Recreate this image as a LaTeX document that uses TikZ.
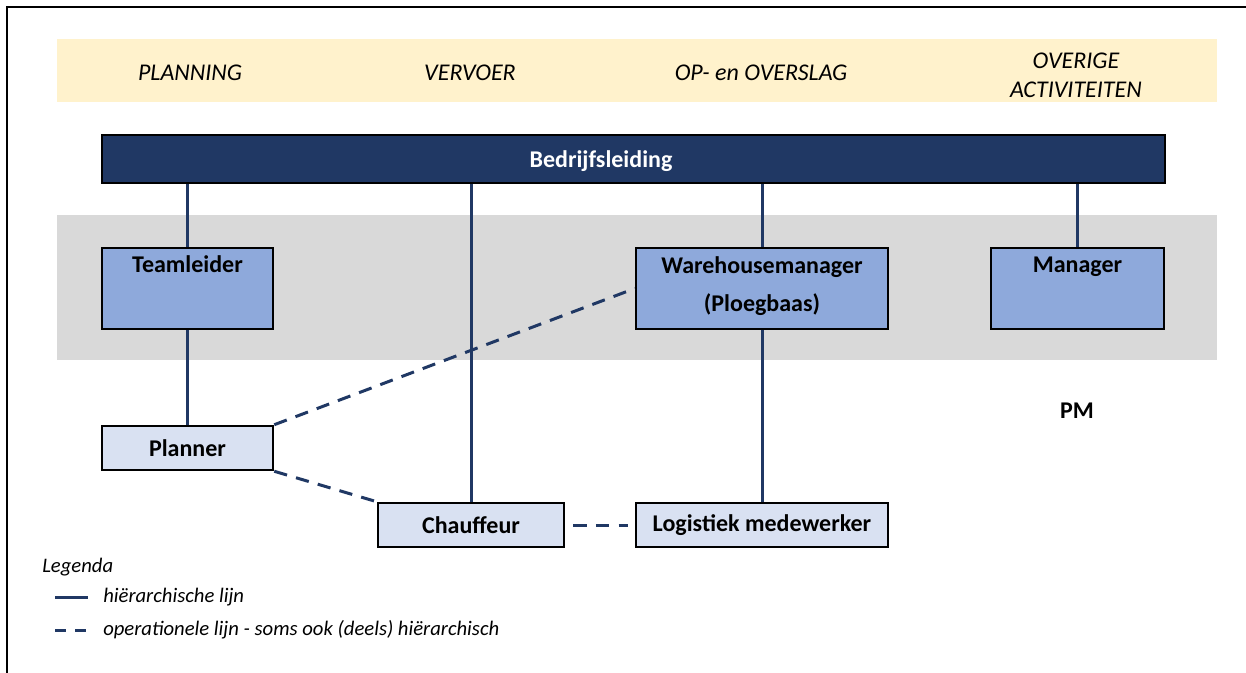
\documentclass[tikz,border=0pt]{standalone}
\usepackage{fontspec}
\setmainfont{Carlito}
\usetikzlibrary{positioning,calc}
\definecolor{darknavy}{HTML}{203864}
\definecolor{midblue}{HTML}{8EA9DB}
\definecolor{paleblue}{HTML}{D9E1F2}
\definecolor{beige}{HTML}{FFF2CC}
\definecolor{bandgray}{HTML}{D9D9D9}
\newcommand{\pxu}{0.75pt}

\begin{document}
\begin{tikzpicture}[x=\pxu,y=-\pxu,
  hdr/.style={font=\fontsize{18}{21.75}\selectfont\itshape,align=center},
  topbox/.style={rectangle,draw=black,line width=1.9pt,fill=midblue,inner sep=0pt,minimum width=#1*\pxu,text height=18.75pt,text depth=42pt,align=center,font=\fontsize{18}{28.5}\selectfont\bfseries},
  lowbox/.style={rectangle,draw=black,line width=1.9pt,fill=paleblue,inner sep=0pt,minimum width=#1*\pxu,minimum height=33pt,font=\fontsize{18}{22}\selectfont\bfseries},
  hier/.style={darknavy,line width=2.25pt},
  oper/.style={darknavy,line width=2.25pt,dash pattern=on 10pt off 7pt},
  legtext/.style={font=\fontsize{15.5}{18}\selectfont\itshape,anchor=west,inner sep=0pt}]
  \useasboundingbox (0,0) rectangle (1246,673);
  % Frame and bands
  \draw[line width=2.2pt] (1246,7) -- (7,7) -- (7,673);
  \fill[beige] (57,39) rectangle (1217,102);
  \fill[bandgray] (57,215) rectangle (1217,360);

  % Column headers
  \node[hdr] (hplan) at (190,73) {PLANNING};
  \node[hdr] (hvervoer) at (470,73) {VERVOER};
  \node[hdr] (hoverslag) at (761,73) {OP- en OVERSLAG};
  \node[hdr] (hoverig) at (1076,75) {OVERIGE\\ACTIVITEITEN};

  % Nodes
  \node[rectangle,draw=black,line width=1.9pt,fill=darknavy,minimum width=1063*\pxu,minimum height=48*\pxu,inner sep=0pt] (bar) at (633.5,159) {};
  \node[font=\fontsize{18}{22}\selectfont\bfseries,text=white] (barlabel) at (601,161) {Bedrijfsleiding};
  \node[topbox=171] (team) at (187.5,288.5) {Teamleider};
  \node[topbox=252,text height=48pt,text depth=12.75pt] (wm) at (762,288.5) {Warehousemanager\\(Ploegbaas)};
  \node[topbox=173] (mgr) at (1077.5,288.5) {Manager};
  \node[lowbox=171] (planner) at (187.5,448) {Planner};
  \node[lowbox=186] (chauf) at (471,525) {Chauffeur};
  \node[lowbox=252] (logis) at (762,525) {Logistiek medewerker};
  \node[font=\fontsize{18}{22}\selectfont\bfseries] (pm) at (1077,411) {PM};

  % Hierarchical lines
  \draw[hier] (team.north |- bar.south) -- (team.north);
  \draw[hier] (chauf.north |- bar.south) -- (chauf.north);
  \draw[hier] (wm.north |- bar.south) -- (wm.north);
  \draw[hier] (mgr.north |- bar.south) -- (mgr.north);
  \draw[hier] (team) -- (planner);
  \draw[hier] (wm) -- (logis);

  % Operational lines
  \draw[oper] (planner.north east) -- (wm.west);
  \draw[oper] (planner.south east) -- (chauf.north west);
  \draw[oper,shorten <=6pt,shorten >=5pt] (chauf) -- (logis);

  % Legend
  \node[legtext] (legenda) at (42,567) {Legenda};
  \coordinate (hA) at (55,597);
  \coordinate (hB) at (88,597);
  \draw[hier] (hA) -- (hB);
  \node[legtext] (hlabel) at (103,597) {hiërarchische lijn};
  \coordinate (oA) at (55,630);
  \coordinate (oB) at (88,630);
  \draw[oper,dash pattern=on 8pt off 7pt] (oA) -- (oB);
  \node[legtext] (olabel) at (103,630) {operationele lijn - soms ook (deels) hiërarchisch};
\end{tikzpicture}
\end{document}
